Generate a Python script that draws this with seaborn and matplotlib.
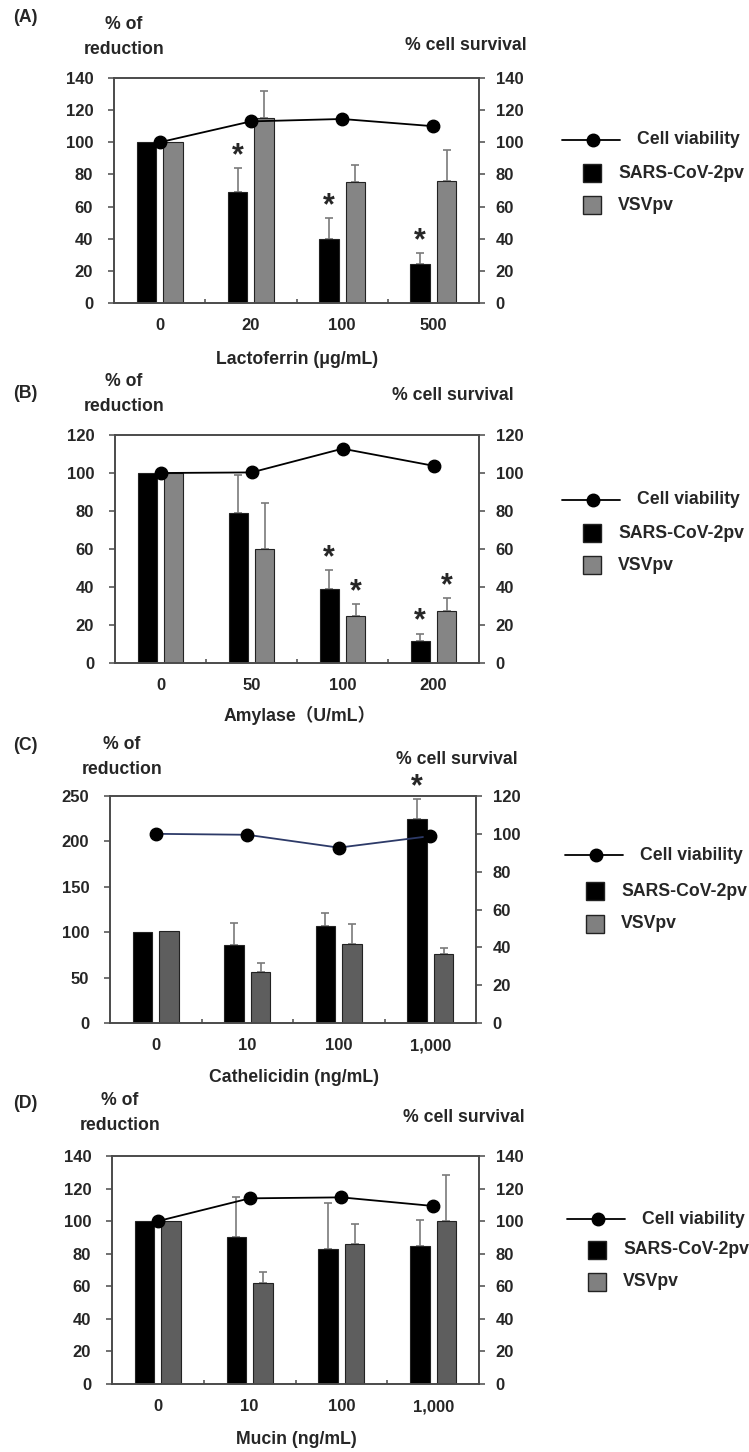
import matplotlib
matplotlib.use("Agg")
import matplotlib.pyplot as plt
import seaborn as sns
import pandas as pd
from matplotlib.lines import Line2D
from matplotlib.patches import Rectangle

# ---- data ----
doses_a = ["0", "20", "100", "500"]
sars_a = [100, 69, 40, 24]
sars_a_sd = [0, 15, 13, 7]
vsv_a = [100, 115, 75, 76]
vsv_a_sd = [0, 17, 11, 19]
viab_a = [100, 113, 114.5, 110]
star_sars_a = [False, True, True, True]
star_vsv_a = [False, False, False, False]

doses_b = ["0", "50", "100", "200"]
sars_b = [100, 79, 39, 11.5]
sars_b_sd = [0, 20, 10, 4]
vsv_b = [100, 60, 25, 27.5]
vsv_b_sd = [0, 24, 6, 6.5]
viab_b = [100, 100.3, 112.8, 103.8]
star_sars_b = [False, False, True, True]
star_vsv_b = [False, False, True, True]

doses_c = ["0", "10", "100", "1,000"]
sars_c = [100, 86, 107, 225]
sars_c_sd = [0, 24, 14, 22]
vsv_c = [101, 56, 87, 76]
vsv_c_sd = [0, 10, 22, 7]
viab_c = [100, 99.5, 92.7, 98.8]
star_sars_c = [False, False, False, True]
star_vsv_c = [False, False, False, False]

doses_d = ["0", "10", "100", "1,000"]
sars_d = [100, 90, 83, 85]
sars_d_sd = [0, 25, 28, 16]
vsv_d = [100, 62, 86, 100]
vsv_d_sd = [0, 6.5, 12, 28.5]
viab_d = [100, 114, 114.6, 109.3]
star_sars_d = [False, False, False, False]
star_vsv_d = [False, False, False, False]

series = ["SARS-CoV-2pv", "VSVpv"]

sns.set_theme(style="ticks")
plt.rcParams["font.family"] = ["Liberation Sans", "Noto Sans CJK JP", "DejaVu Sans"]
plt.rcParams["font.weight"] = "bold"

W, H = 749, 1452
TXT = 12.7
TICK = 12
fig = plt.figure(figsize=(W / 100, H / 100), dpi=100)


def fx(x):
    return x / W


def fy(y):
    return 1 - y / H


def draw_panel(box, doses, sars, sars_sd, vsv, vsv_sd, viab, stars_s, stars_v,
               lmax, lstep, rmax, rstep, grey, line_col):
    l, r, t, b = box
    ax = fig.add_axes([fx(l), fy(b), (r - l) / W, (b - t) / H])
    df = pd.DataFrame({
        "dose": doses * 2,
        "value": sars + vsv,
        "virus": [series[0]] * len(doses) + [series[1]] * len(doses),
    })
    sns.barplot(data=df, x="dose", y="value", hue="virus", order=doses,
                hue_order=series, palette=["black", grey], width=0.58, gap=0.27,
                edgecolor="#222222", linewidth=0.8, errorbar=None,
                legend=False, ax=ax, zorder=1)

    sds = [sars_sd, vsv_sd]
    stars = [stars_s, stars_v]
    bar_groups = list(ax.containers[:2])
    for k, cont in enumerate(bar_groups):
        for i, bar in enumerate(cont):
            xc = bar.get_x() + bar.get_width() / 2
            top = bar.get_height()
            sd = sds[k][i]
            if sd > 0:
                ax.errorbar(xc, top, yerr=[[0], [sd]], fmt="none",
                            ecolor="#7a7a7a", elinewidth=1.2, capsize=3,
                            capthick=1.2, zorder=0.5)
            if stars[k][i]:
                ax.annotate("*", xy=(xc, top + sd), xytext=(0, 8.5),
                            textcoords="offset points", ha="center",
                            va="center", fontsize=22, fontweight="bold",
                            annotation_clip=False)

    ax.set_ylim(0, lmax)
    ax.set_yticks(range(0, lmax + 1, lstep))
    ax.set_xlim(-0.5, len(doses) - 0.5)
    ax.set_xlabel("")
    ax.set_ylabel("")

    ax2 = ax.twinx()
    sns.pointplot(x=doses, y=viab, order=doses, ax=ax2, color=line_col,
                  markers="o", markersize=9, linewidth=1.3, errorbar=None,
                  markerfacecolor="black", markeredgecolor="black")
    ax2.set_ylim(0, rmax)
    ax2.set_yticks(range(0, rmax + 1, rstep))
    ax2.set_xlim(-0.5, len(doses) - 0.5)
    ax2.set_xlabel("")
    ax2.set_ylabel("")

    for a in (ax, ax2):
        for s in a.spines.values():
            s.set_color("#4a4a4a")
            s.set_linewidth(1.2)
            s.set_visible(True)
        a.grid(False)
    ax.tick_params(axis="y", direction="out", length=4, width=1.1,
                   color="#4a4a4a", labelsize=TICK, pad=11)
    ax2.tick_params(axis="y", direction="out", length=4, width=1.1,
                    color="#4a4a4a", labelsize=TICK, pad=8)
    ax.set_xticks([i + 0.5 for i in range(len(doses) - 1)], minor=True)
    ax.tick_params(axis="x", which="major", length=0, labelsize=TICK, pad=11)
    ax.tick_params(axis="x", which="minor", direction="in", length=3,
                   width=1.1, color="#4a4a4a")
    ax2.tick_params(axis="x", which="both", length=0)
    return ax


def panel_text(tag, y_tag, y_left, y_right, x_right, xlabel, x_xl, y_xl, x_left=124):
    fig.text(fx(13), fy(y_tag), tag, ha="left", va="center", fontsize=TXT)
    fig.text(fx(x_left), fy(y_left), "% of\nreduction", ha="center", va="center",
             fontsize=TXT, linespacing=1.65)
    fig.text(fx(x_right), fy(y_right), "% cell survival", ha="right",
             va="center", fontsize=TXT)
    fig.text(fx(x_xl), fy(y_xl), xlabel, ha="center", va="center", fontsize=TXT)


def legend(x0, ys, grey):
    y1, y2, y3 = ys
    fig.add_artist(Line2D([fx(x0), fx(x0 + 58)], [fy(y1), fy(y1)],
                          color="black", lw=1.3, transform=fig.transFigure))
    fig.add_artist(Line2D([fx(x0 + 31)], [fy(y1)], marker="o", markersize=9,
                          color="black", transform=fig.transFigure))
    fig.text(fx(x0 + 75), fy(y1), "Cell viability", ha="left", va="center",
             fontsize=TXT)
    for yy, col, lab in [(y2, "black", series[0]), (y3, grey, series[1])]:
        fig.add_artist(Rectangle((fx(x0 + 21), fy(yy + 9)), 18 / W, 18 / H,
                                 facecolor=col, edgecolor="#222222", lw=1,
                                 transform=fig.transFigure))
        fig.text(fx(x0 + 56), fy(yy), lab, ha="left", va="center", fontsize=TXT)


grey_ab = "#858585"
grey_cd = "#5e5e5e"

draw_panel((114, 479, 78, 303), doses_a, sars_a, sars_a_sd, vsv_a, vsv_a_sd,
           viab_a, star_sars_a, star_vsv_a, 140, 20, 140, 20, grey_ab, "black")
panel_text("(A)", 17, 37, 45, 527, "Lactoferrin (μg/mL)", 297, 360)
legend(562, (140, 173, 205), grey_ab)

draw_panel((115, 479, 435, 663), doses_b, sars_b, sars_b_sd, vsv_b, vsv_b_sd,
           viab_b, star_sars_b, star_vsv_b, 120, 20, 120, 20, grey_ab, "black")
panel_text("(B)", 393, 394, 395, 514, "Amylase（U/mL）", 300, 715)
legend(562, (500, 533, 565), grey_ab)

draw_panel((110, 476, 796, 1023), doses_c, sars_c, sars_c_sd, vsv_c, vsv_c_sd,
           viab_c, star_sars_c, star_vsv_c, 250, 50, 120, 20, grey_cd, "#2d3a68")
panel_text("(C)", 745, 757, 759, 518, "Cathelicidin (ng/mL)", 294, 1077, x_left=122)
legend(565, (855, 891, 924), "#808080")

draw_panel((112, 479, 1156, 1384), doses_d, sars_d, sars_d_sd, vsv_d, vsv_d_sd,
           viab_d, star_sars_d, star_vsv_d, 140, 20, 140, 20, grey_cd, "black")
panel_text("(D)", 1104, 1113, 1118, 525, "Mucin (ng/mL)", 296, 1440, x_left=120)
legend(567, (1219, 1250, 1282), "#808080")

fig.savefig("out.png", dpi=100)
